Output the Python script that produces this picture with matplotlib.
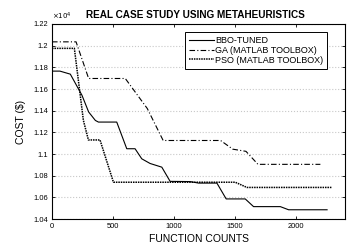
import matplotlib
matplotlib.use("Agg")
import matplotlib.pyplot as plt
import numpy as np

plt.rcParams['font.family'] = ['Liberation Sans', 'DejaVu Sans']

# function counts / cost ($)
bbo_x = [0, 65, 150, 245, 300, 355, 380, 530, 612, 680, 735, 803, 899, 967, 1131, 1200, 1350, 1426, 1582, 1650, 1869, 1937, 2252]
bbo_y = [11765, 11765, 11737, 11543, 11388, 11310, 11295, 11295, 11049, 11049, 10956, 10913, 10879, 10748, 10746, 10732, 10732, 10586, 10586, 10515, 10515, 10486, 10486]

ga_x = [0, 197, 300, 600, 780, 910, 1380, 1480, 1588, 1686, 2197]
ga_y = [12035, 12035, 11697, 11697, 11420, 11125, 11125, 11045, 11025, 10905, 10905]

pso_x = [0, 183, 257, 298, 393, 503, 1500, 1596, 2292]
pso_y = [11975, 11975, 11310, 11130, 11130, 10740, 10740, 10692, 10692]

labels = ['BBO-TUNED', 'GA (MATLAB TOOLBOX)', 'PSO (MATLAB TOOLBOX)']

fig = plt.figure(figsize=(3.49, 2.47), dpi=100)
ax = fig.add_axes([0.149, 0.113, 0.84, 0.79])

ax.plot(bbo_x, np.array(bbo_y) / 1e4, color='black', lw=0.8, label=labels[0])
ax.plot(ga_x, np.array(ga_y) / 1e4, color='black', lw=0.8,
        linestyle=(0, (5, 2, 1, 2)), label=labels[1])
ax.plot(pso_x, np.array(pso_y) / 1e4, color='black', lw=1.1,
        linestyle=(0, (1, 0.6)), label=labels[2])

ax.set_xlim(0, 2400)
ax.set_ylim(1.04, 1.22)
ax.set_xticks([0, 500, 1000, 1500, 2000])
yt = np.arange(1.04, 1.2201, 0.02)
ax.set_yticks(yt)
ax.set_yticklabels(['%g' % round(v, 2) for v in yt])
ax.tick_params(direction='in', top=True, right=True, labelsize=5.4, length=2.5,
               width=0.6, pad=3)
ax.yaxis.grid(True, color='#c8c8c8', linestyle=':', lw=0.8)
for s in ax.spines.values():
    s.set_linewidth(0.8)

ax.text(0.0, 1.01, r'$\times10^4$', transform=ax.transAxes, fontsize=5,
        ha='left', va='bottom')
ax.set_title('REAL CASE STUDY USING METAHEURISTICS', fontsize=7.2,
             fontweight='bold', pad=4, x=0.49)
ax.set_xlabel('FUNCTION COUNTS', fontsize=7.5, labelpad=3)
ax.set_ylabel('COST ($)', fontsize=7.5, labelpad=5)

leg = ax.legend(loc='upper right', bbox_to_anchor=(0.939, 0.96), fontsize=6.5,
                handlelength=2.8, handletextpad=0.1, borderpad=0.45,
                labelspacing=0.1, fancybox=False, framealpha=1,
                edgecolor='black', borderaxespad=0)
leg.get_frame().set_linewidth(0.7)

fig.savefig('out.png', dpi=100)
